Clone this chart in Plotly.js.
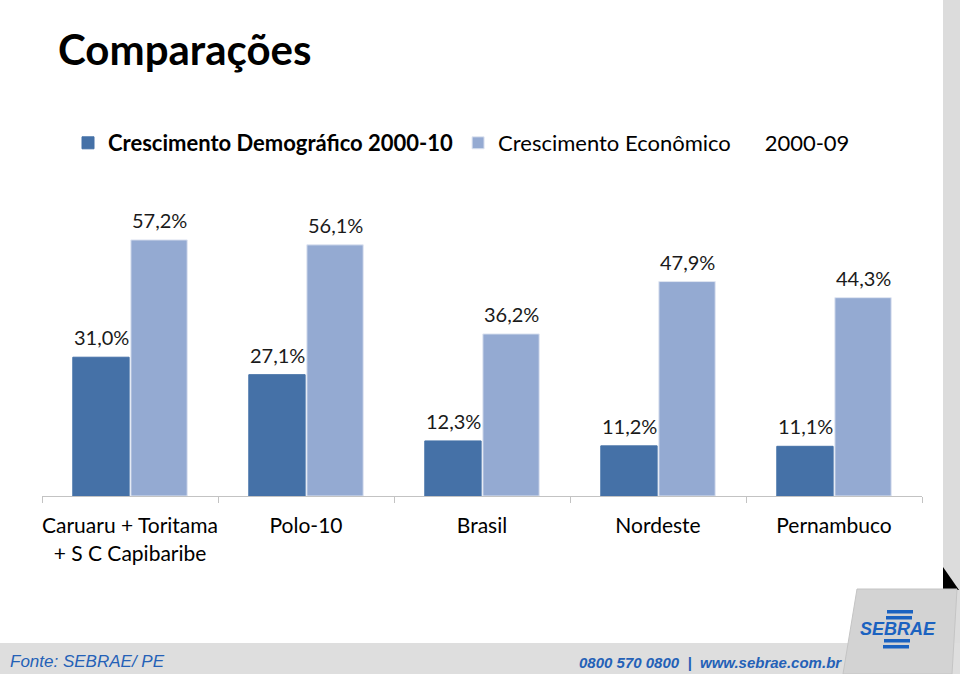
<!DOCTYPE html>
<html>
<head>
<meta charset="utf-8">
<script src="https://cdn.plot.ly/plotly-3.0.1.min.js"></script>
<style>
  html, body { margin: 0; padding: 0; background: #ffffff; }
  #chart { width: 960px; height: 674px; }
</style>
</head>
<body>
<div id="chart"></div>
<script>
// ---- Data ----
const categories = ["Caruaru + Toritama<br>+ S C Capibaribe", "Polo-10", "Brasil", "Nordeste", "Pernambuco"];
const seriesNames = ["<b>Crescimento Demográfico 2000-10</b>", "Crescimento Econômico\u00A0\u00A0\u00A0\u00A0\u00A0\u00A02000-09"];
const demografico = [31.0, 27.1, 12.3, 11.2, 11.1];
const economico = [57.2, 56.1, 36.2, 47.9, 44.3];
const seriesValues = [demografico, economico];
const seriesColors = ["#4571a7", "#94aad2"];
const titleText = "Comparações";
const fonteText = "Fonte: SEBRAE/ PE";
const contactText = "0800 570 0800  |  www.sebrae.com.br";

// ---- Geometry helpers (decoration only) ----
const W = 960, H = 674;
const M = {l: 42, r: 38, t: 190, b: 178};
const PW = W - M.l - M.r, PH = H - M.t - M.b;
const px = x => (x - M.l) / PW;
const py = y => (H - M.b - y) / PH;

function fmt(v) { return v.toFixed(1).replace(".", ",") + "%"; }

const FONT = "Lato, 'Open Sans', sans-serif";

const traces = seriesValues.map((vals, i) => ({
  type: "bar",
  name: seriesNames[i],
  x: categories,
  y: vals,
  marker: {color: seriesColors[i], line: {color: i === 1 ? "#dfe5f1" : seriesColors[i], width: 1}},
  hoverinfo: "skip"
}));

const annotations = [];
seriesValues.forEach((vals, i) => {
  vals.forEach((v, j) => {
    annotations.push({
      x: categories[j], y: v, xref: "x", yref: "y",
      xshift: i === 0 ? -29 : 29, yshift: 6,
      text: fmt(v), showarrow: false, yanchor: "bottom", xanchor: "center",
      font: {family: FONT, size: 20, color: "#1a1a1a"}
    });
  });
});

// footer texts
annotations.push({
  xref: "paper", yref: "paper", x: px(8), y: py(661), xanchor: "left", yanchor: "middle",
  text: "<i>" + fonteText + "</i>", showarrow: false,
  font: {family: "'Liberation Sans Narrow', 'Liberation Sans', sans-serif", size: 17, color: "#2461b7"}
});
annotations.push({
  xref: "paper", yref: "paper", x: px(844), y: py(662), xanchor: "right", yanchor: "middle",
  text: "<b><i>" + contactText + "</i></b>", showarrow: false,
  font: {family: "'Liberation Sans Narrow', 'Liberation Sans', sans-serif", size: 15, color: "#2461b7"}
});
annotations.push({
  xref: "paper", yref: "paper", x: px(898), y: py(629), xanchor: "center", yanchor: "middle",
  text: "<b><i>SEBRAE</i></b>", showarrow: false,
  font: {family: "'Liberation Sans', sans-serif", size: 18, color: "#1b62c0"}
});

const shapes = [
  {type: "rect", xref: "paper", yref: "paper", x0: px(943), x1: px(960), y0: py(0), y1: py(674), fillcolor: "#dcdcdc", line: {width: 0}, layer: "below"},
  {type: "rect", xref: "paper", yref: "paper", x0: px(0), x1: px(960), y0: py(643), y1: py(674), fillcolor: "#dedede", line: {width: 0}, layer: "below"},
  {type: "path", xref: "paper", yref: "paper",
   path: `M${px(943)},${py(567)} L${px(943)},${py(590)} L${px(959)},${py(590)} Z`,
   fillcolor: "#000000", line: {width: 0}},
  {type: "path", xref: "paper", yref: "paper",
   path: `M${px(857)},${py(589)} L${px(957)},${py(589)} L${px(952)},${py(674)} L${px(843)},${py(674)} Z`,
   fillcolor: "#d3d3d3", line: {color: "#c4c4c4", width: 1}},
  {type: "rect", xref: "paper", yref: "paper", x0: px(887), x1: px(913), y0: py(610), y1: py(613.5), fillcolor: "#1b62c0", line: {width: 0}},
  {type: "rect", xref: "paper", yref: "paper", x0: px(886), x1: px(912), y0: py(616), y1: py(619.5), fillcolor: "#1b62c0", line: {width: 0}},
  {type: "rect", xref: "paper", yref: "paper", x0: px(884), x1: px(910), y0: py(639), y1: py(642.5), fillcolor: "#1b62c0", line: {width: 0}},
  {type: "rect", xref: "paper", yref: "paper", x0: px(883), x1: px(909), y0: py(645), y1: py(648.5), fillcolor: "#1b62c0", line: {width: 0}}
];

const layout = {
  width: W, height: H,
  margin: M,
  paper_bgcolor: "#ffffff",
  plot_bgcolor: "rgba(0,0,0,0)",
  font: {family: FONT, color: "#000000"},
  title: {
    text: "<b>" + titleText + "</b>",
    xref: "container", yref: "container",
    x: 58 / W, xanchor: "left",
    y: 1 - 50 / H, yanchor: "middle",
    font: {family: FONT, size: 42, color: "#000000"}
  },
  barmode: "group",
  bargap: 0.34,
  bargroupgap: 0.03,
  showlegend: true,
  legend: {
    orientation: "h",
    xref: "container", yref: "container",
    x: 68 / W, xanchor: "left",
    y: 1 - 143 / H, yanchor: "middle",
    font: {family: FONT, size: 22, color: "#000000"},
    itemwidth: 30,
    bgcolor: "rgba(0,0,0,0)",
    traceorder: "normal"
  },
  xaxis: {
    type: "category",
    range: [-0.5, 4.5],
    showline: true, linecolor: "#c3c3c3", linewidth: 1,
    ticks: "outside", tickson: "boundaries", ticklen: 6, tickcolor: "#c3c3c3",
    showgrid: false, zeroline: false,
    tickangle: 0,
    tickfont: {family: FONT, size: 21, color: "#000000"},
    ticklabelstandoff: 11,
    fixedrange: true
  },
  yaxis: {
    range: [0, PH / 4.477],
    visible: false, showgrid: false, zeroline: false,
    fixedrange: true
  },
  annotations: annotations,
  shapes: shapes,
  hovermode: false
};

Plotly.newPlot("chart", traces, layout, {displayModeBar: false, staticPlot: true});
</script>
</body>
</html>
